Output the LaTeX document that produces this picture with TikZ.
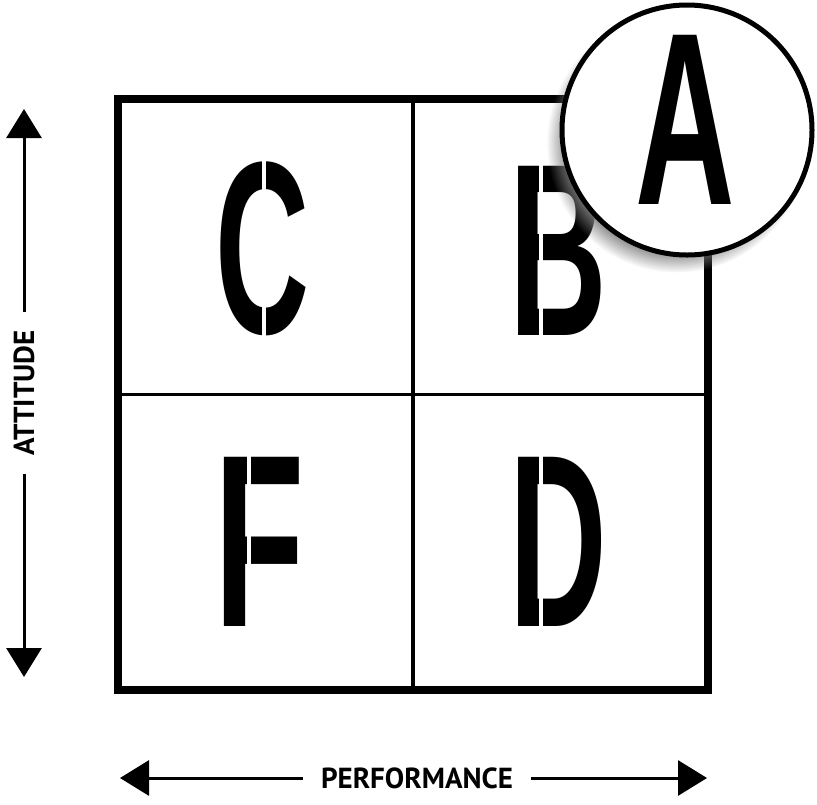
\documentclass[tikz,border=0pt]{standalone}
\usepackage{fontspec}
\setmainfont{PT Sans}
\newfontfamily\bigfont{Liberation Sans}
\usetikzlibrary{arrows.meta,shadows,fadings}
\newcommand\gradeletter[2]{\scalebox{#1}[1]{\bigfont\bfseries\fontsize{246}{246}\selectfont #2}}
\begin{document}
\begin{tikzpicture}[x=1pt,y=-1pt,
  frame/.style={line width=8pt},
  vdivider/.style={line width=4pt},
  hdivider/.style={line width=3pt},
  axis/.style={line width=3pt,-{Triangle[width=35pt,length=29pt]}},
  axislabel/.style={font=\fontsize{29}{29}\selectfont\bfseries, inner xsep=18pt, inner ysep=0pt},
  grade/.style={inner sep=0pt},
  cut/.style={fill=white},
  badge/.style={circle, draw, line width=5pt, fill=white, minimum size=250pt, inner sep=0pt,
    circular drop shadow={shadow xshift=-10pt, shadow yshift=-12pt, shadow scale=1.04, opacity=0.85}}]
\useasboundingbox (0,0) rectangle (817,804);

% grid
\draw[frame] (117.5,99) rectangle (707.5,690);
\draw[vdivider] (413,99) -- (413,690);
\draw[hdivider] (117.5,394) -- (707.5,394);

% grades
\node[grade] (C) at (263,249) {\gradeletter{0.53}{C}};
\node[grade] (B) at (558,251) {\gradeletter{0.55}{B}};
\node[grade] (F) at (260,542) {\gradeletter{0.6}{F}};
\node[grade] (D) at (558,542) {\gradeletter{0.55}{D}};
% stencil bridges
\fill[cut] (261.5,150) rectangle (265.5,350);
\fill[cut] (539,150) rectangle (543,350);
\fill[cut] (539,440) rectangle (543,645);
\fill[cut] (247,440) rectangle (251,645);

% badge
\node[badge] (badge) at (687,130) {};
\node[grade] (A) at (685,120) {\gradeletter{0.56}{A}};

% axes
\coordinate (attTop) at (24,109);
\coordinate (attBot) at (24,677);
\node[axislabel, rotate=90] (att) at (24,393) {ATTITUDE};
\draw[axis] (att.east) -- (attTop);
\draw[axis] (att.west) -- (attBot);

\coordinate (perfL) at (120,778);
\coordinate (perfR) at (707,778);
\node[axislabel] (perf) at (417,778) {PERFORMANCE};
\draw[axis] (perf.west) -- (perfL);
\draw[axis] (perf.east) -- (perfR);
\end{tikzpicture}
\end{document}
